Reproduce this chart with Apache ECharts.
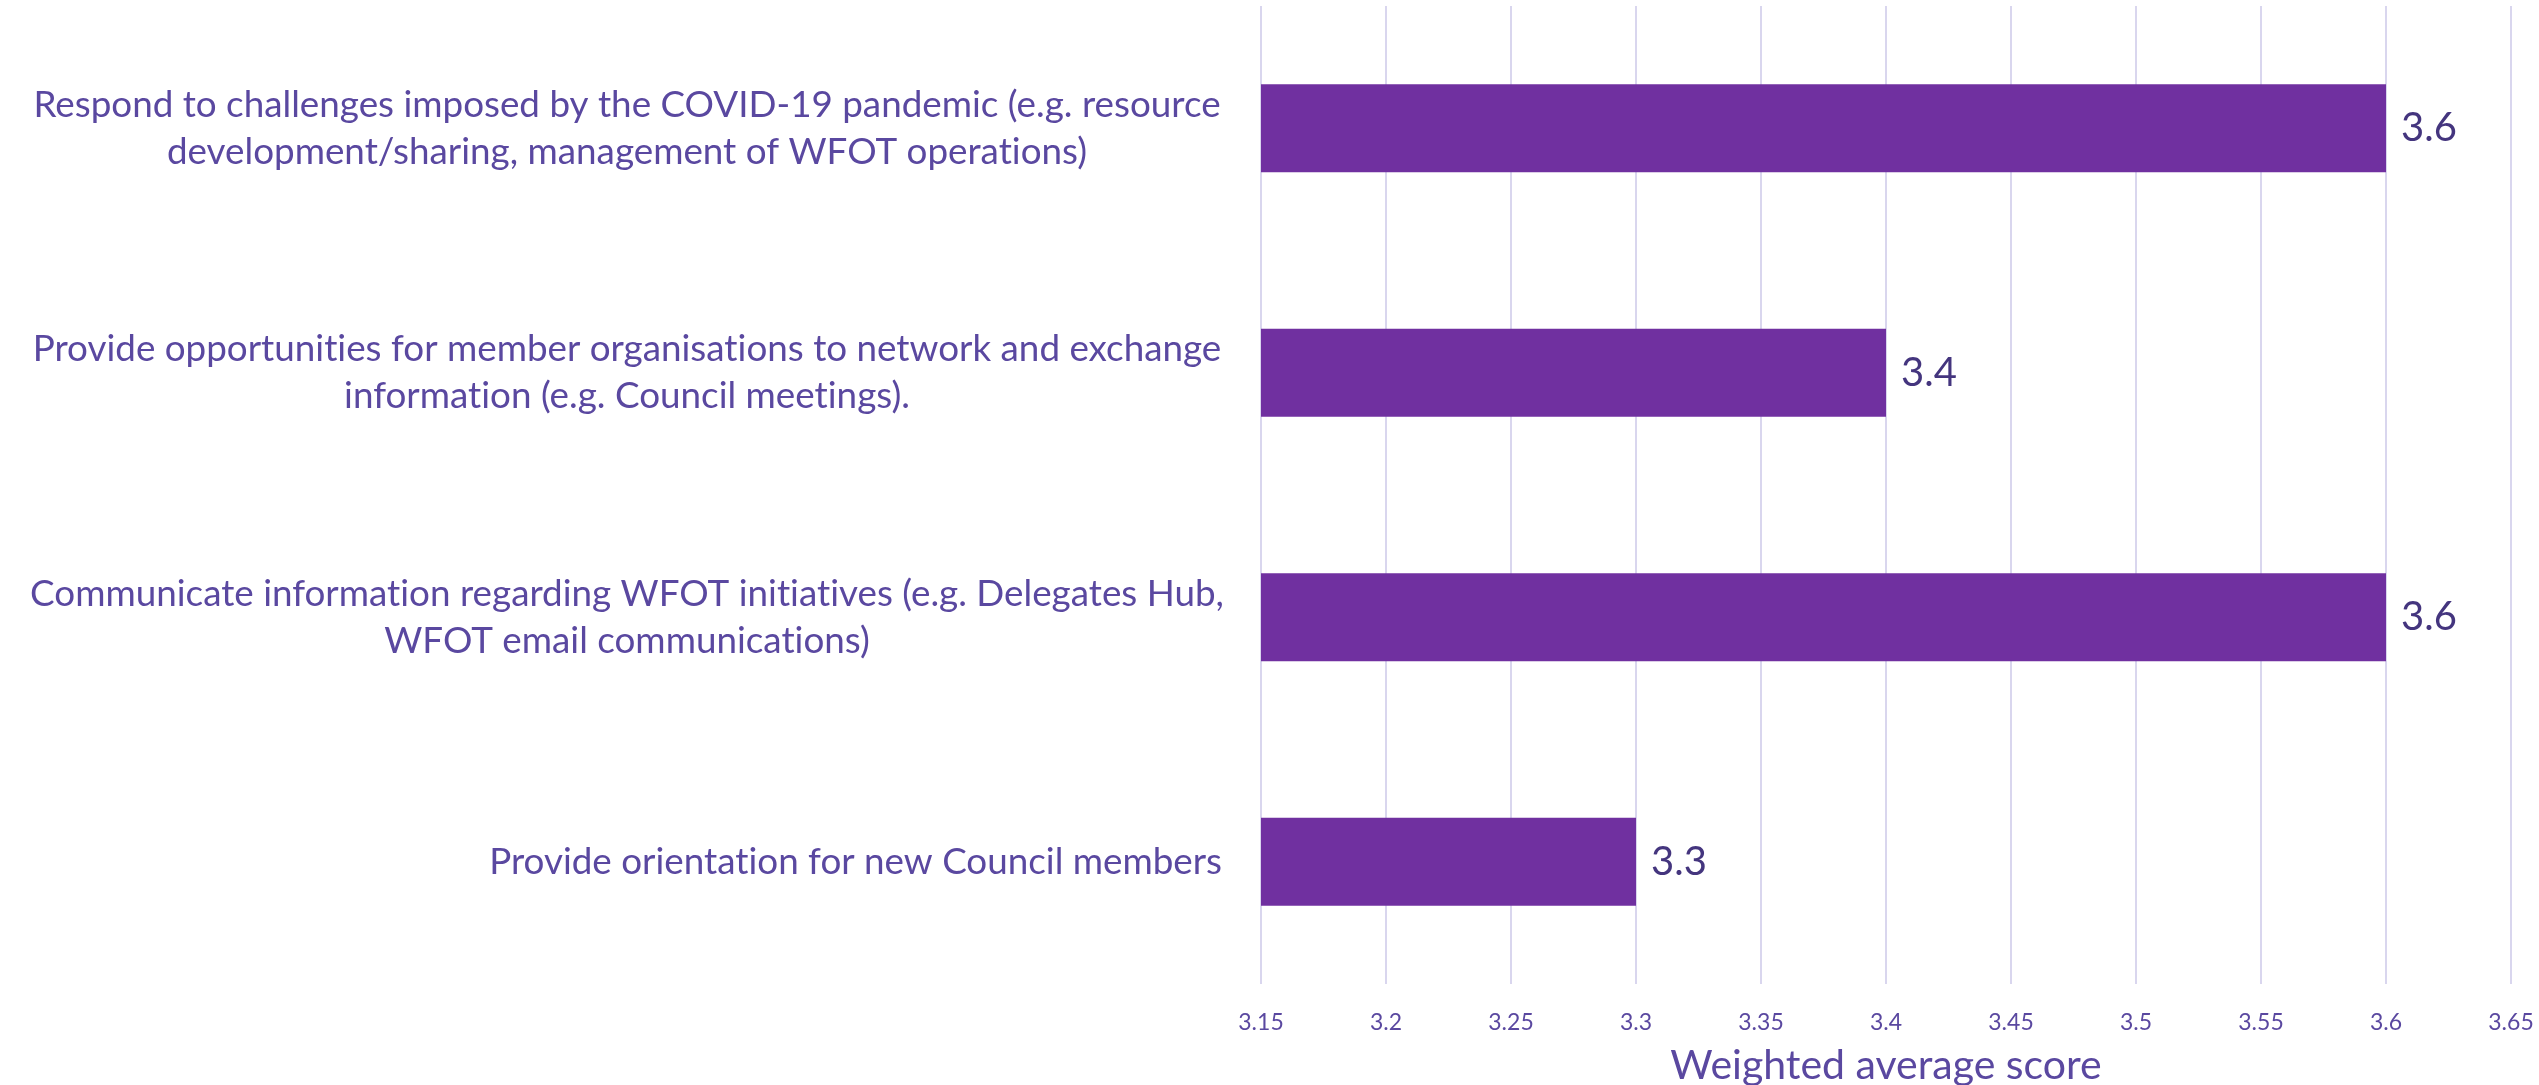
<!DOCTYPE html>
<html>
<head>
<meta charset="utf-8">
<script src="https://cdn.jsdelivr.net/npm/echarts@6/dist/echarts.min.js"></script>
<style>
html,body{margin:0;padding:0;background:#fff;}
#chart{width:2539px;height:1085px;}
</style>
</head>
<body>
<div id="chart"></div>
<script>
var categories = [
  "Respond to challenges imposed by the COVID-19 pandemic (e.g. resource\ndevelopment/sharing, management of WFOT operations)",
  "Provide opportunities for member organisations to network and exchange\ninformation (e.g. Council meetings).",
  "Communicate information regarding WFOT initiatives (e.g. Delegates Hub,\nWFOT email communications)",
  "Provide orientation for new Council members"
];
var scores = [3.6, 3.4, 3.6, 3.3];
var axisMin = 3.15, axisMax = 3.65, axisStep = 0.05;
var axisTitle = "Weighted average score";

var FONT = "Lato";
var TXT = '#5A48A0';
function noLig(s) { return s.replace(/t(?=i)/g, 't\u200C').replace(/f(?=[il])/g, 'f\u200C'); }
var chart = echarts.init(document.getElementById('chart'), null, {renderer: 'canvas'});
chart.setOption({
  animation: false,
  grid: {left: 1261, right: 28, top: 6, bottom: 101, containLabel: false, outerBoundsMode: 'none'},
  xAxis: {
    type: 'value', min: axisMin, max: axisMax, interval: axisStep,
    axisLine: {show: false}, axisTick: {show: false},
    splitLine: {show: true, lineStyle: {color: '#d9d6ee', width: 2}},
    axisLabel: {
      fontFamily: FONT, fontSize: 23, color: TXT, margin: 27,
      formatter: function (v) { return String(parseFloat(v.toFixed(2))); }
    },
    name: axisTitle, nameLocation: 'middle', nameGap: 61, nameMoveOverlap: false,
    nameTextStyle: {fontFamily: FONT, fontSize: 41, color: TXT}
  },
  yAxis: {
    type: 'category', data: categories, inverse: true,
    axisLine: {show: false}, axisTick: {show: false}, splitLine: {show: false},
    axisLabel: {
      margin: 39, align: 'right',
      formatter: function (v) {
        var lines = noLig(v).split('\n');
        if (lines.length === 1) return '{r|' + lines[0] + '}';
        return lines.map(function (l) { return '{c|' + l + '}'; }).join('\n');
      },
      rich: {
        c: {fontFamily: FONT, fontSize: 36.8, color: TXT, width: 1190, align: 'center', lineHeight: 47},
        r: {fontFamily: FONT, fontSize: 36.8, color: TXT, width: 1190, align: 'right', lineHeight: 47}
      }
    }
  },
  series: [{
    type: 'bar', data: scores, barWidth: '36%',
    itemStyle: {color: '#7030A0'},
    label: {show: true, position: 'right', distance: 15, fontFamily: FONT, fontSize: 40, color: '#44357E',
      formatter: function (p) { return p.value.toFixed(1); }}
  }]
});
</script>
</body>
</html>
